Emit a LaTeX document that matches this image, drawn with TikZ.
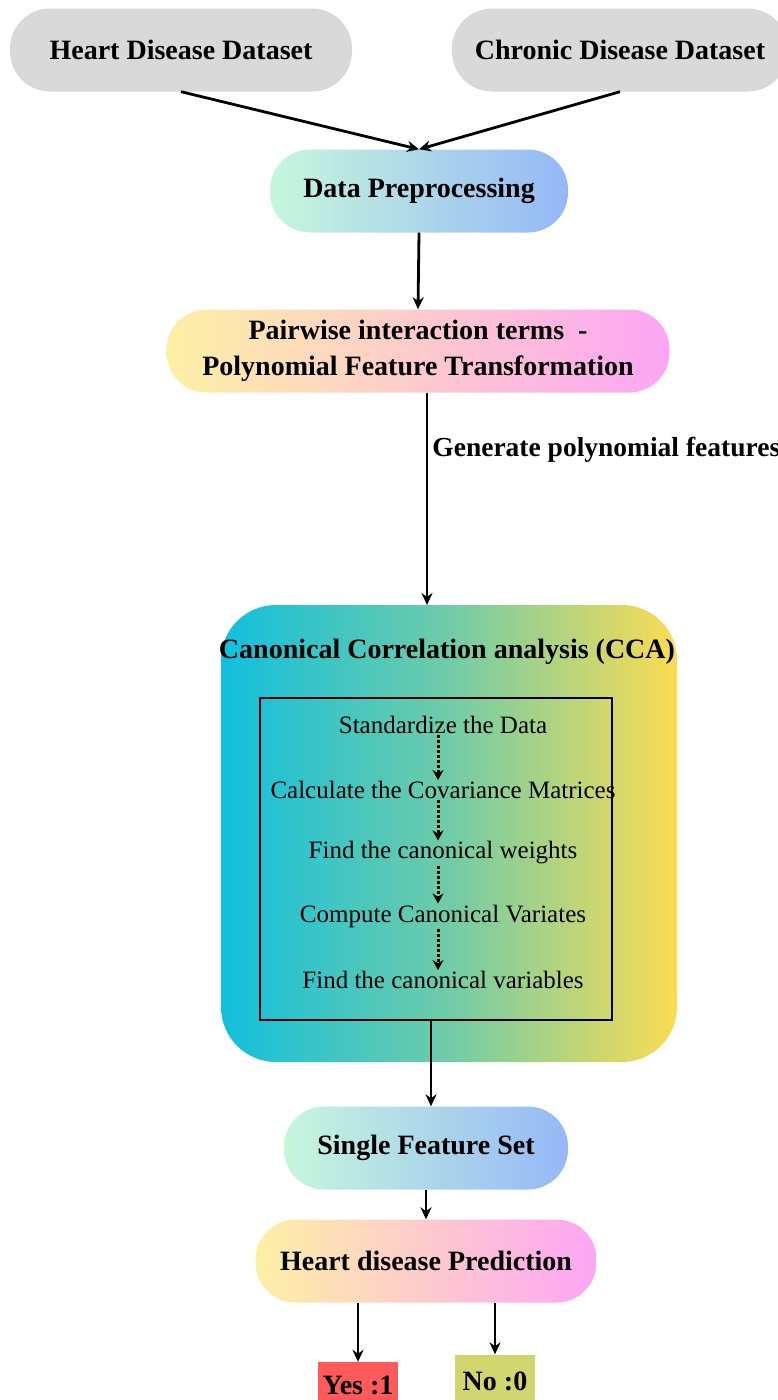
\documentclass[tikz,border=0pt]{standalone}
\usepackage{fontspec}
\setmainfont{Liberation Serif}
\usetikzlibrary{positioning, arrows.meta}

\definecolor{boxgray}{HTML}{D9D9D9}
\definecolor{mint}{HTML}{C6F7DC}
\definecolor{skyblue}{HTML}{95B8F7}
\definecolor{lemon}{HTML}{FDF0A5}
\definecolor{orchid}{HTML}{FDA5F5}
\definecolor{ccacyan}{HTML}{12BFDD}
\definecolor{ccagreen}{HTML}{70CCA8}
\definecolor{ccayellow}{HTML}{FBDC52}
\definecolor{yesred}{HTML}{FF5A5A}
\definecolor{noolive}{HTML}{D2D66E}

\tikzset{
  label/.style={font=\fontsize{28}{36}\selectfont\bfseries, align=center},
  pill/.style={label, rounded corners=40pt, minimum height=83pt},
  datapill/.style={pill, fill=boxgray},
  bluepill/.style={pill, left color=mint, right color=skyblue},
  pinkpill/.style={pill, left color=lemon, right color=orchid},
  stepnode/.style={font=\fontsize{25}{30}\selectfont, inner sep=1pt},
  arr/.style={-{Stealth[length=12pt, width=11pt]}, line width=2.8pt},
  dotarr/.style={-{Stealth[length=10pt, width=11pt]}, line width=3pt, dotted},
}

\begin{document}
\begin{tikzpicture}[x=1pt, y=-1pt]
  \useasboundingbox (0,0) rectangle (778,1400);

  \node[datapill, minimum width=342pt] (heart) at (181,50) {Heart Disease Dataset};
  \node[datapill, minimum width=336pt] (chronic) at (620,50) {Chronic Disease Dataset};

  \node[bluepill, minimum width=298pt] (prep) at (419,191) {Data Preprocessing};
  \node[pinkpill, minimum width=503pt] (pair) at (418,351) {Pairwise interaction terms~~-\\Polynomial Feature Transformation};

  \path[rounded corners=55pt, left color=ccacyan, right color=ccayellow, middle color=ccagreen]
    (221,605) rectangle (677,1062);
  \node[label] (cca) at (447,652) {Canonical Correlation analysis (CCA)};
  \path (449,605) coordinate (ccatop);
  \draw[line width=2.6pt] (260,698) rectangle (612,1020);
  \path (436,1020) coordinate (framebottom);

  \node[stepnode] (s1) at (443,725) {Standardize the Data};
  \node[stepnode] (s2) at (443,790) {Calculate the Covariance Matrices};
  \node[stepnode] (s3) at (443,853) {Find the canonical weights};
  \node[stepnode] (s4) at (443,916) {Compute Canonical Variates};
  \node[stepnode] (s5) at (443,980) {Find the canonical variables};

  \node[bluepill, minimum width=284pt] (single) at (426,1148) {Single Feature Set};
  \node[pinkpill, minimum width=341pt] (pred) at (426,1261) {Heart disease Prediction};

  \node[label, fill=yesred, minimum width=80pt, minimum height=46pt, inner sep=2pt] (yes) at (358,1385) {Yes :1};
  \node[label, fill=noolive, minimum width=80pt, minimum height=53pt, inner sep=2pt] (no) at (495,1381) {No :0};

  \draw[arr] (heart.south) -- (prep.north);
  \draw[arr] (chronic.south) -- (prep.north);
  \draw[arr] (prep.south) -- (pair.north);
  \draw[arr] ([xshift=9pt]pair.south) coordinate (g1) -- (g1 |- ccatop)
    node[pos=0.27, right, inner sep=4pt, font=\fontsize{27.5}{30}\selectfont\bfseries] (gen) {Generate polynomial features};

  \foreach \a/\b in {s1/s2, s2/s3, s3/s4, s4/s5} {
    \draw[dotarr] ([xshift=-5pt]\a.south) -- ([xshift=-5pt]\b.north);
  }

  \draw[arr] (framebottom -| s1) ++(-12,0) coordinate (f1) -- (f1 |- single.north);
  \draw[arr] (single.south) -- (pred.north);
  \draw[arr] (pred.south -| yes) -- (yes.north);
  \draw[arr] (pred.south -| no) -- (no.north);
\end{tikzpicture}
\end{document}
